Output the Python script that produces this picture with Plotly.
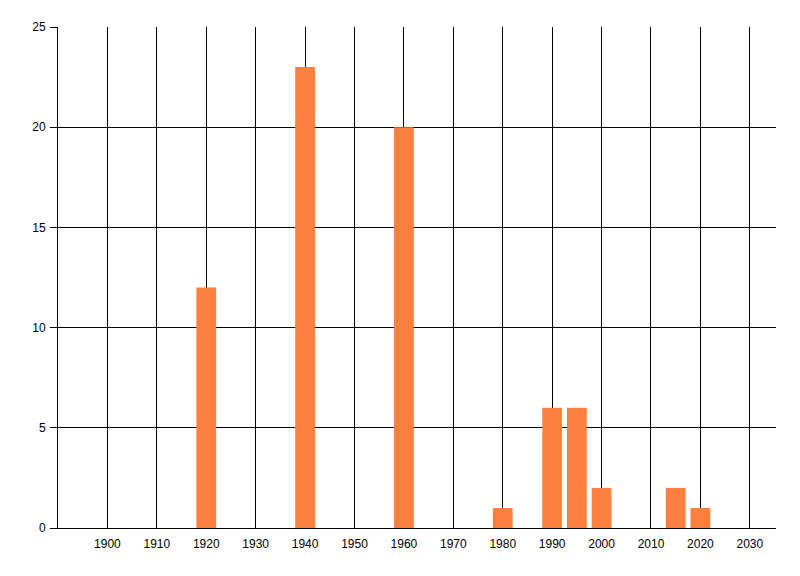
import plotly.graph_objects as go

years = [1920, 1940, 1960, 1980, 1990, 1995, 2000, 2015, 2020]
counts = [12, 23, 20, 1, 6, 6, 2, 2, 1]
x_ticks = list(range(1900, 2031, 10))
y_ticks = [0, 5, 10, 15, 20, 25]

fig = go.Figure(go.Bar(
    x=years, y=counts, width=4,
    marker=dict(color="#FF7F40", line=dict(width=0)),
))

fig.update_layout(
    width=800, height=576,
    margin=dict(l=50, r=32, t=19, b=56),
    paper_bgcolor="white", plot_bgcolor="white",
    font=dict(family="Liberation Sans, Arial, sans-serif", size=12, color="black"),
    showlegend=False,
    xaxis=dict(
        range=[1890, 2035.3], tickvals=x_ticks, ticktext=[str(v) for v in x_ticks],
        showgrid=True, gridcolor="black", gridwidth=1,
        showline=True, linecolor="black", linewidth=1,
        ticks="", zeroline=False, ticklabelstandoff=5, automargin=False,
    ),
    yaxis=dict(
        range=[0, 25], tickvals=y_ticks,
        showgrid=True, gridcolor="black", gridwidth=1,
        showline=True, linecolor="black", linewidth=1,
        ticks="outside", ticklen=7, tickcolor="black", zeroline=False,
        ticklabelstandoff=2, automargin=False,
    ),
)

fig.write_html("out.html")
